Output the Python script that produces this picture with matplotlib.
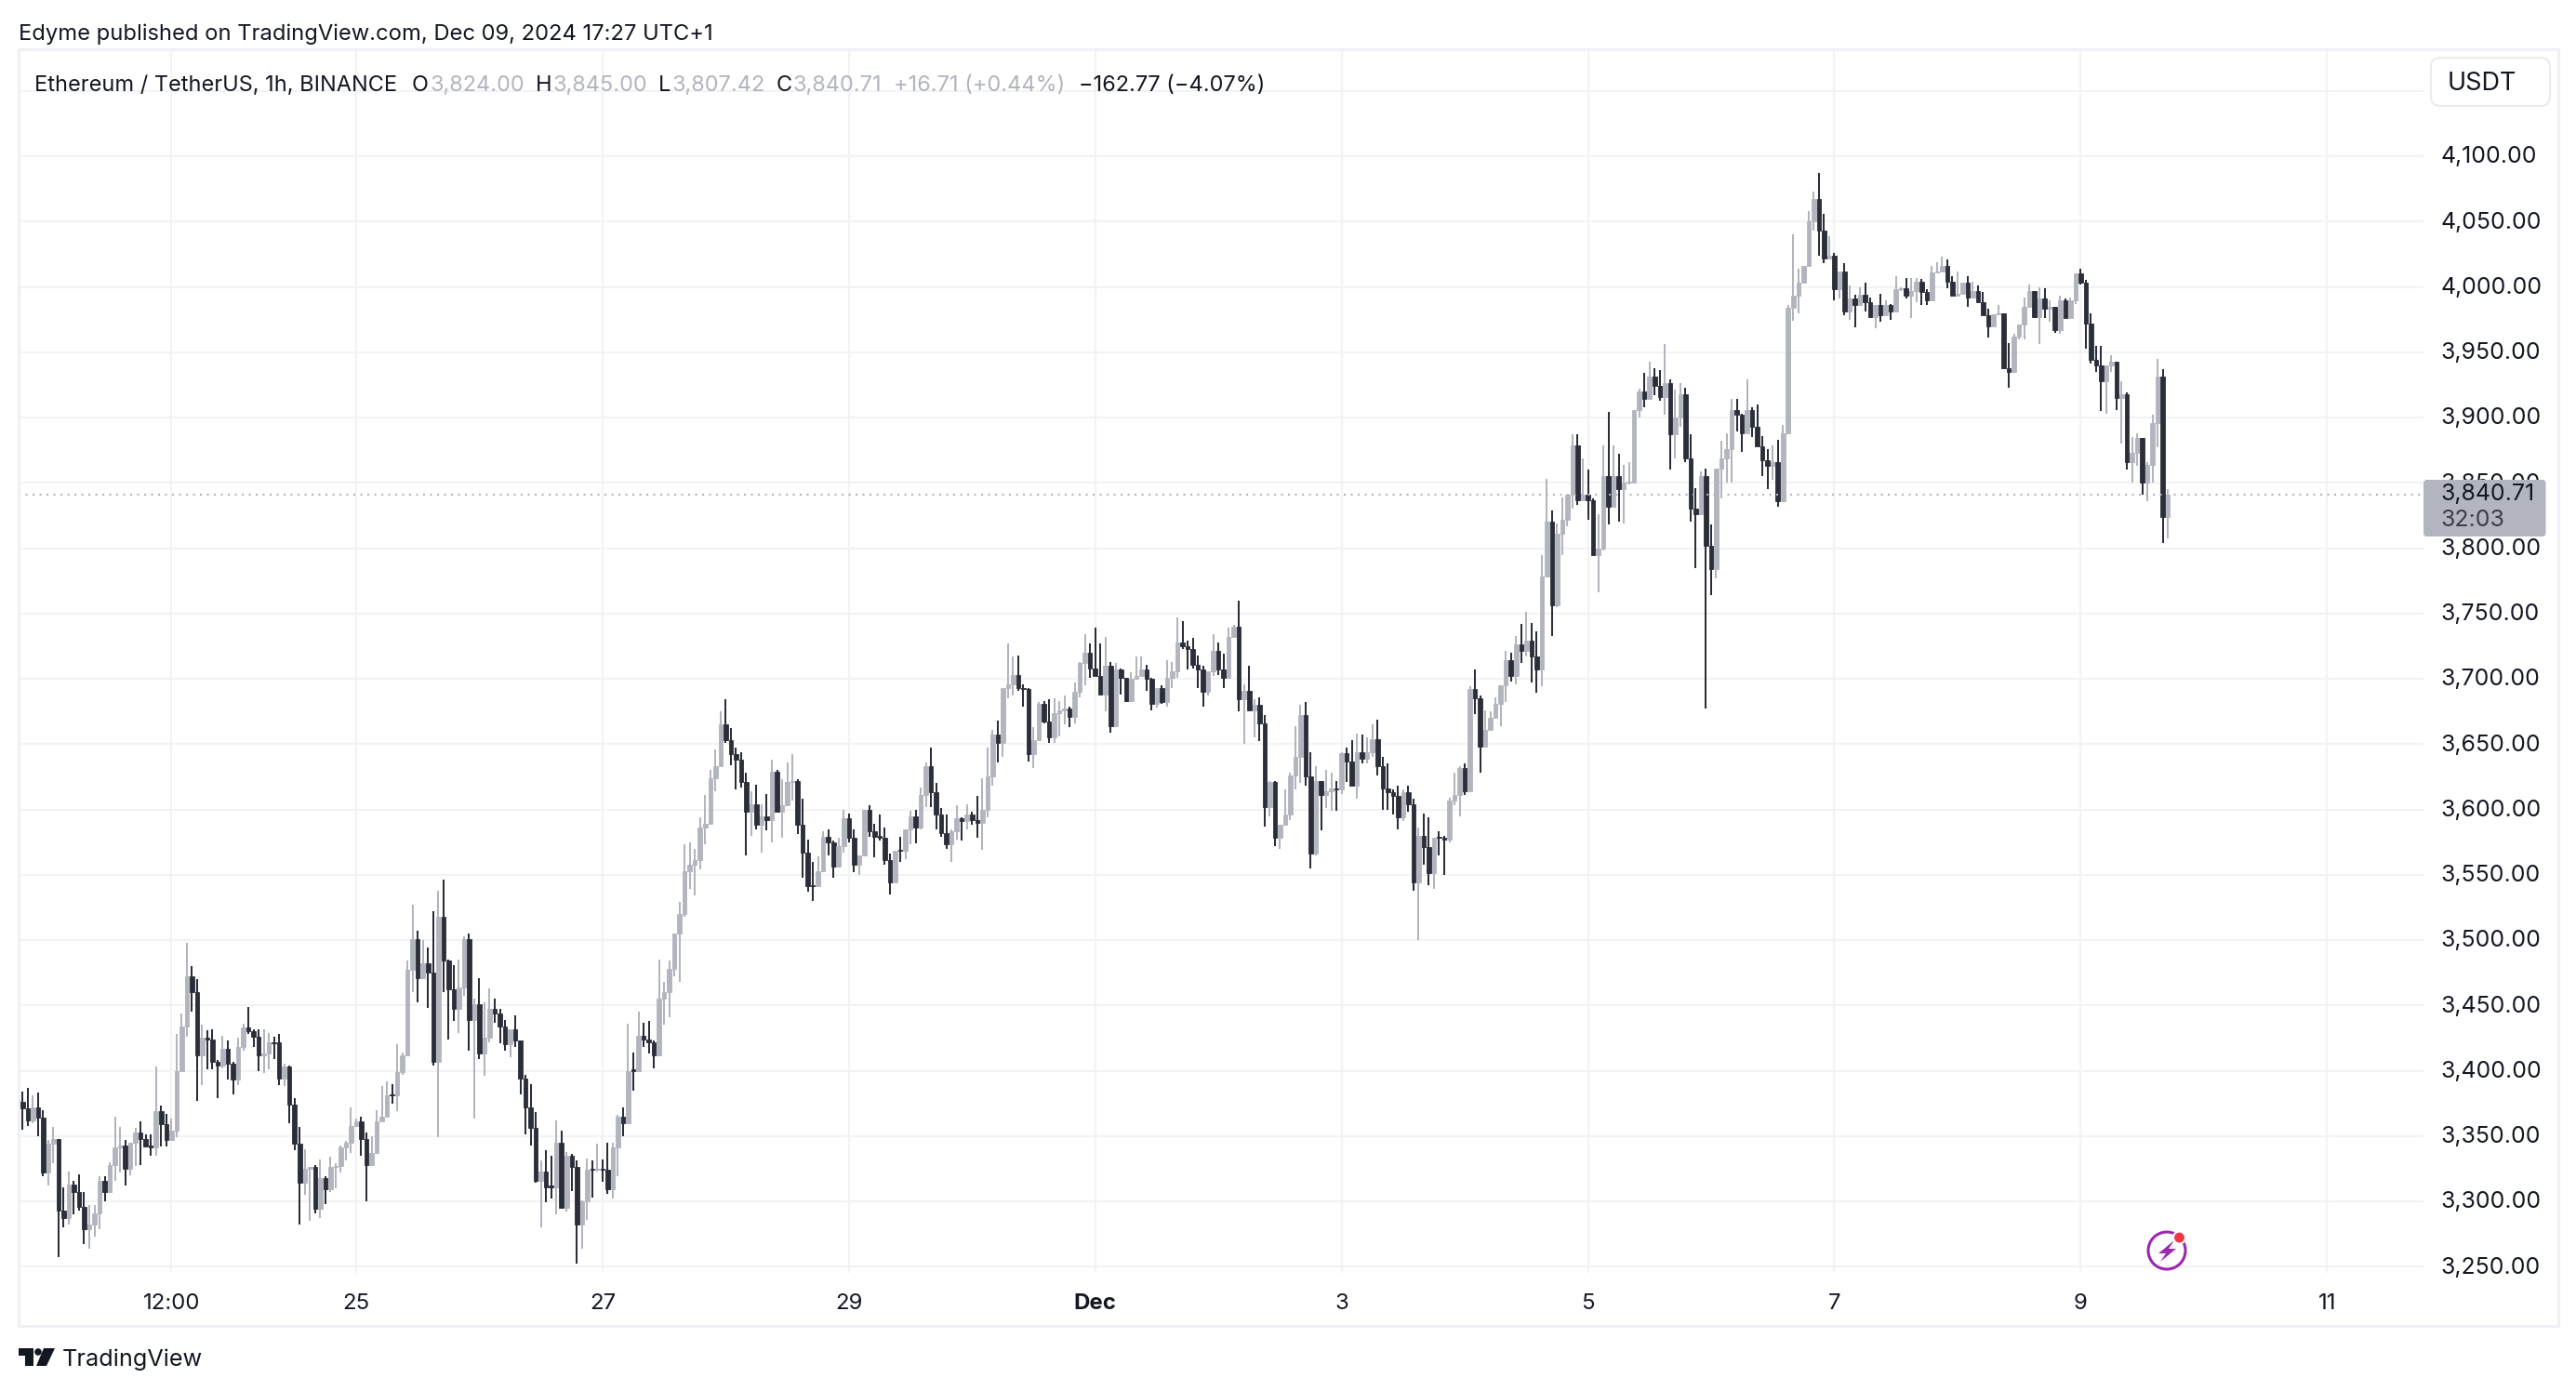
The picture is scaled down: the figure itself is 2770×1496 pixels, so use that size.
import numpy as np
import matplotlib
matplotlib.use("Agg")
import matplotlib.pyplot as plt
from matplotlib.patches import Rectangle, FancyBboxPatch, Circle, Polygon
from matplotlib.transforms import ScaledTranslation

# ---------- Data (hourly ETH/USDT candles) ----------
opens = [
    3378,3376,3371,3362,3372,3364,3322,3344,3348,3293, 3287,3313,3307,3296,3279,3282,3291,3316,3307,3328,
    3341,3343,3325,3345,3353,3348,3343,3341,3369,3359, 3347,3354,3400,3434,3472,3460,3412,3425,3424,3407,
    3404,3417,3405,3393,3418,3433,3430,3426,3412,3413, 3422,3422,3394,3403,3374,3344,3314,3325,3326,3294,
    3318,3309,3326,3327,3341,3345,3358,3361,3348,3328, 3337,3361,3365,3382,3381,3399,3412,3477,3501,3471,
    3482,3475,3407,3518,3484,3462,3447,3464,3501,3439, 3451,3413,3425,3447,3444,3434,3420,3432,3423,3394,
    3372,3356,3316,3323,3312,3311,3345,3295,3335,3326, 3282,3300,3325,3324,3325,3324,3309,3341,3365,3360,
    3401,3400,3427,3424,3422,3412,3455,3460,3478,3505, 3520,3553,3558,3561,3586,3589,3624,3633,3665,3653,
    3642,3638,3621,3598,3604,3588,3595,3592,3629,3598, 3603,3621,3622,3588,3567,3542,3541,3553,3579,3575,
    3556,3572,3593,3578,3558,3565,3600,3583,3580,3578, 3561,3544,3569,3568,3585,3595,3586,3611,3633,3613,
    3596,3582,3573,3583,3593,3591,3596,3592,3590,3600, 3625,3657,3651,3693,3696,3703,3693,3692,3642,3653,
    3681,3667,3655,3674,3676,3677,3671,3690,3712,3720, 3708,3702,3688,3710,3664,3707,3701,3683,3700,3702,
    3707,3700,3681,3693,3682,3701,3706,3728,3725,3723, 3711,3707,3690,3706,3721,3707,3701,3732,3740,3684,
    3691,3676,3680,3666,3602,3621,3578,3588,3596,3626, 3640,3672,3625,3566,3622,3611,3614,3616,3615,3643,
    3637,3618,3644,3639,3644,3654,3633,3616,3613,3610, 3594,3613,3604,3544,3580,3571,3551,3579,3578,3577,
    3607,3611,3632,3614,3692,3685,3648,3661,3670,3681, 3695,3714,3702,3726,3721,3729,3717,3707,3778,3820,
    3756,3811,3822,3841,3879,3837,3841,3837,3795,3800, 3855,3832,3855,3845,3850,3850,3906,3920,3914,3931,
    3924,3916,3926,3887,3900,3918,3869,3830,3826,3855, 3802,3784,3861,3869,3876,3906,3902,3888,3906,3893,
    3878,3867,3863,3866,3836,3888,3984,3993,4003,4016, 4050,4067,4043,4022,4024,3998,4012,3981,3991,3986,
    3994,3988,3977,3986,3978,3986,3981,3998,3999,3993, 3997,4004,3996,3990,4011,4012,4016,4004,3993,3995,
    4003,3992,3997,3988,3978,3970,3979,3980,3938,3935, 3962,3971,3985,3997,3977,3991,3983,3985,3967,3990,
    3976,3990,4010,4003,3972,3944,3940,3928,3940,3943, 3915,3918,3866,3873,3884,3850,3864,3896,3931,3824,
]
highs = [
    3390,3384,3387,3381,3383,3370,3347,3357,3348,3311, 3323,3316,3321,3307,3297,3297,3319,3319,3330,3365,
    3357,3347,3345,3356,3361,3351,3351,3403,3373,3367, 3363,3428,3444,3498,3480,3470,3435,3431,3432,3408,
    3427,3423,3407,3425,3436,3449,3432,3432,3432,3429, 3426,3428,3405,3404,3379,3357,3340,3326,3328,3332,
    3319,3334,3329,3343,3346,3372,3363,3365,3353,3350, 3370,3388,3392,3390,3420,3414,3484,3527,3507,3500,
    3494,3522,3538,3546,3485,3481,3485,3503,3505,3455, 3471,3452,3463,3455,3447,3439,3432,3442,3423,3397,
    3390,3368,3331,3339,3335,3362,3354,3338,3336,3331, 3301,3333,3331,3344,3332,3345,3345,3366,3372,3436,
    3414,3445,3437,3438,3423,3485,3468,3484,3505,3529, 3573,3575,3570,3594,3611,3630,3646,3675,3684,3662,
    3647,3644,3628,3614,3619,3604,3612,3638,3630,3623, 3636,3642,3623,3608,3577,3560,3564,3583,3585,3576,
    3578,3600,3597,3585,3565,3600,3603,3589,3596,3586, 3566,3568,3579,3585,3599,3600,3617,3636,3647,3620,
    3601,3596,3585,3603,3594,3604,3598,3610,3624,3647, 3661,3668,3693,3727,3717,3718,3696,3693,3663,3682,
    3683,3684,3685,3683,3687,3679,3697,3713,3734,3727, 3739,3727,3732,3713,3712,3708,3701,3705,3717,3717,
    3711,3701,3693,3695,3714,3713,3747,3744,3729,3731, 3718,3710,3706,3734,3728,3719,3739,3741,3760,3696,
    3710,3684,3686,3672,3622,3622,3588,3615,3628,3664, 3680,3682,3644,3633,3622,3630,3628,3622,3644,3647,
    3653,3658,3657,3655,3665,3669,3640,3635,3615,3618, 3615,3618,3608,3586,3597,3594,3578,3583,3580,3609,
    3628,3633,3635,3694,3707,3687,3676,3675,3686,3695, 3721,3720,3733,3742,3751,3743,3736,3795,3853,3829,
    3819,3839,3841,3887,3887,3869,3860,3838,3826,3879, 3904,3879,3872,3864,3866,3906,3922,3934,3943,3938,
    3936,3956,3929,3921,3926,3923,3887,3846,3859,3861, 3818,3861,3882,3888,3914,3914,3903,3929,3908,3910,
    3886,3876,3879,3883,3894,3986,4040,4014,4016,4058, 4073,4087,4056,4039,4026,4012,4018,4001,3994,4000,
    4003,3992,3986,3995,3990,3987,4008,4000,4007,4007, 4007,4006,3998,4016,4019,4023,4021,4008,4012,4003,
    4008,4004,4001,3996,3983,3979,3986,3980,3957,3964, 3971,3992,4002,3997,4000,3999,3990,3985,3993,3991,
    3992,4010,4014,4005,3980,3955,3955,3940,3948,3943, 3928,3919,3885,3888,3884,3866,3902,3945,3937,3845,
]
lows = [
    3375,3355,3358,3360,3350,3319,3312,3329,3257,3280, 3282,3290,3293,3267,3264,3273,3279,3300,3307,3316,
    3322,3312,3320,3327,3328,3341,3335,3335,3342,3342, 3347,3349,3400,3426,3445,3377,3389,3401,3401,3379,
    3402,3393,3382,3389,3415,3428,3418,3400,3398,3401, 3409,3389,3388,3360,3339,3282,3305,3285,3291,3287,
    3298,3307,3310,3322,3331,3337,3358,3335,3300,3328, 3337,3361,3365,3375,3369,3397,3411,3460,3452,3470,
    3448,3404,3349,3460,3424,3438,3429,3457,3415,3363, 3409,3396,3422,3437,3421,3415,3410,3418,3382,3351,
    3343,3314,3280,3299,3302,3290,3295,3292,3308,3252, 3264,3286,3303,3323,3315,3306,3302,3319,3350,3360,
    3385,3399,3418,3413,3402,3411,3435,3441,3472,3468, 3518,3539,3534,3554,3573,3588,3614,3633,3651,3634,
    3615,3617,3565,3580,3585,3567,3584,3575,3598,3578, 3603,3607,3581,3548,3537,3530,3541,3553,3565,3548,
    3556,3567,3575,3552,3550,3565,3579,3563,3576,3558, 3535,3544,3560,3562,3573,3574,3585,3602,3602,3585,
    3579,3570,3560,3577,3576,3585,3588,3578,3569,3594, 3618,3636,3640,3685,3687,3691,3679,3637,3632,3653,
    3666,3651,3651,3656,3665,3663,3666,3686,3695,3701, 3702,3688,3675,3659,3664,3688,3682,3683,3700,3702,
    3691,3676,3678,3681,3679,3693,3701,3723,3707,3708, 3693,3679,3687,3702,3703,3693,3701,3732,3675,3650,
    3676,3655,3652,3587,3595,3572,3570,3588,3592,3615, 3620,3618,3555,3565,3584,3601,3599,3599,3612,3621,
    3618,3608,3635,3635,3640,3626,3600,3600,3596,3585, 3591,3598,3538,3500,3558,3542,3539,3565,3550,3575,
    3603,3595,3611,3614,3673,3628,3648,3660,3670,3664, 3682,3698,3696,3712,3717,3697,3689,3694,3778,3733,
    3755,3795,3817,3830,3833,3837,3822,3795,3766,3798, 3818,3832,3820,3819,3849,3850,3900,3908,3914,3917,
    3913,3902,3860,3869,3893,3866,3820,3785,3826,3677, 3764,3777,3838,3850,3850,3889,3874,3888,3885,3878,
    3855,3845,3852,3832,3836,3888,3974,3980,4003,4016, 4043,4024,4018,4022,3990,3991,3978,3975,3969,3986,
    3981,3976,3968,3973,3978,3975,3981,3997,3991,3976, 3988,3986,3986,3990,4011,4012,3999,3993,3993,3995,
    3985,3992,3988,3978,3961,3970,3979,3937,3923,3935, 3960,3960,3985,3976,3956,3976,3973,3965,3964,3976,
    3976,3987,4002,3953,3941,3935,3905,3903,3935,3906, 3880,3860,3850,3863,3841,3836,3850,3877,3804,3807.42,
]
closes = [
    3376,3371,3362,3372,3364,3322,3344,3348,3293,3287, 3313,3307,3296,3279,3282,3291,3316,3307,3328,3341,
    3343,3325,3345,3353,3348,3342,3341,3369,3359,3347, 3354,3400,3434,3472,3460,3412,3425,3424,3407,3404,
    3417,3405,3393,3418,3433,3430,3426,3412,3413,3422, 3421,3394,3403,3374,3344,3314,3325,3326,3294,3318,
    3309,3326,3327,3341,3345,3358,3361,3348,3328,3337, 3361,3365,3381,3381,3399,3412,3477,3501,3471,3482,
    3475,3407,3518,3484,3462,3447,3464,3501,3439,3451, 3413,3425,3447,3444,3434,3420,3432,3423,3394,3372,
    3356,3316,3323,3311,3311,3345,3295,3335,3326,3282, 3300,3324,3324,3325,3324,3309,3341,3365,3360,3400,
    3400,3427,3424,3422,3412,3455,3460,3478,3505,3520, 3553,3558,3561,3586,3589,3624,3633,3665,3653,3642,
    3638,3621,3598,3604,3588,3595,3592,3629,3598,3603, 3621,3622,3588,3567,3541,3541,3553,3579,3575,3556,
    3572,3593,3578,3558,3565,3600,3583,3579,3578,3561, 3544,3568,3568,3585,3595,3586,3611,3633,3613,3596,
    3582,3573,3583,3593,3591,3596,3592,3590,3600,3625, 3657,3651,3693,3696,3703,3693,3692,3642,3653,3681,
    3667,3655,3674,3676,3677,3671,3690,3712,3720,3708, 3702,3688,3710,3664,3707,3701,3683,3700,3702,3707,
    3700,3681,3693,3682,3701,3706,3728,3725,3723,3711, 3707,3690,3706,3721,3707,3701,3732,3740,3684,3691,
    3676,3680,3666,3602,3621,3578,3588,3596,3626,3640, 3672,3625,3566,3622,3611,3614,3616,3615,3643,3637,
    3618,3644,3639,3644,3654,3633,3616,3613,3610,3594, 3613,3604,3544,3580,3571,3551,3578,3578,3577,3607,
    3611,3632,3614,3692,3685,3648,3661,3670,3681,3695, 3714,3702,3726,3721,3729,3717,3707,3778,3820,3756,
    3811,3822,3841,3879,3837,3841,3837,3795,3800,3855, 3832,3855,3845,3850,3851,3906,3920,3914,3931,3924,
    3916,3926,3887,3900,3918,3869,3830,3826,3855,3802, 3784,3861,3869,3876,3906,3902,3888,3906,3893,3878,
    3867,3863,3866,3836,3888,3984,3993,4003,4016,4050, 4067,4043,4022,4024,3998,4012,3981,3991,3986,3994,
    3988,3977,3986,3978,3986,3981,3998,3999,3993,3997, 4004,3996,3990,4011,4012,4016,4004,3993,3995,4003,
    3992,3997,3988,3978,3970,3979,3980,3938,3935,3962, 3971,3985,3997,3977,3991,3983,3985,3967,3990,3976,
    3990,4010,4003,3972,3944,3940,3928,3940,3943,3915, 3918,3866,3873,3884,3850,3864,3896,3931,3824,3840.71,
]
first_hour = -66  # hours relative to Nov 25 00:00
last_close = 3840.71

price_ticks = [3250, 3300, 3350, 3400, 3450, 3500, 3550, 3600, 3650, 3700, 3750,
               3800, 3850, 3900, 3950, 4000, 4050, 4100, 4150]
price_labels = ["3,250.00", "3,300.00", "3,350.00", "3,400.00", "3,450.00", "3,500.00",
                "3,550.00", "3,600.00", "3,650.00", "3,700.00", "3,750.00", "3,800.00",
                "3,850.00", "3,900.00", "3,950.00", "4,000.00", "4,050.00", "4,100.00", ""]
time_ticks = [-36, 0, 48, 96, 144, 192, 240, 288, 336, 384]
time_labels = ["12:00", "25", "27", "29", "Dec", "3", "5", "7", "9", "11"]

# ---------- Style ----------
W, H = 2770, 1496
UP = "#B2B5BE"
DOWN = "#2A2E39"
TXT = "#131722"
GRID = "#F3F3F5"
BORDER = "#EFEFF5"
plt.rcParams["font.family"] = ["Inter", "DejaVu Sans"]
FS = 17.3
FS_PRICE = 17.9
FS_LEGEND = 16.95

fig = plt.figure(figsize=(W / 100, H / 100), dpi=100, facecolor="white")
ax = fig.add_axes([20 / W, 1 - 1369 / H, 2586 / W, 1316 / H])
ax.set_xlim(-65.77, 402.8)
ax.set_ylim(3245.2, 4181.85)
for s in ax.spines.values():
    s.set_visible(False)

# Grid and ticks
ax.set_axisbelow(True)
ax.grid(True, color=GRID, lw=1.5)
ax.yaxis.tick_right()
ax.set_yticks(price_ticks)
ax.set_yticklabels(price_labels)
ax.set_xticks(time_ticks)
ax.set_xticklabels(time_labels)
ax.tick_params(axis="y", length=0, pad=13, labelsize=FS_PRICE, labelcolor=TXT)
ax.tick_params(axis="x", length=0, pad=15.5, labelsize=FS, labelcolor=TXT)
ax.get_xticklabels()[4].set_fontweight("bold")
# Price labels sit a little above their gridlines
nudge = ScaledTranslation(0, 1.6 / 100, fig.dpi_scale_trans)
for lab in ax.get_yticklabels():
    lab.set_transform(lab.get_transform() + nudge)

# Candles
o = np.array(opens, dtype=float)
h = np.array(highs, dtype=float)
l = np.array(lows, dtype=float)
c = np.array(closes, dtype=float)
hours = first_hour + np.arange(len(c))
colors = [UP if cl >= op else DOWN for op, cl in zip(o, c)]
ax.vlines(hours, l, h, colors=colors, lw=1.45, zorder=3)
ax.bar(hours, np.abs(c - o), bottom=np.minimum(o, c), width=0.82, color=colors,
       edgecolor=colors, linewidth=0.6, zorder=3)
ax.axhline(last_close, color=UP, ls=(0, (1, 2.6)), lw=1.5, zorder=5)

# Overlay in pixel coordinates for the TradingView furniture
ov = fig.add_axes([0, 0, 1, 1], zorder=10)
ov.set_xlim(0, W)
ov.set_ylim(H, 0)
ov.axis("off")
ov.patch.set_alpha(0)

ov.add_patch(Rectangle((20, 53), 2731, 1373, fill=False, ec=BORDER, lw=2))
ov.add_patch(FancyBboxPatch((2620, 68), 116, 40, boxstyle="round,pad=6,rounding_size=10",
                            fc="white", ec="#EAEAF0", lw=1.5))
ov.text(2632, 89.5, "USDT", fontsize=19.5, color=TXT, va="center", ha="left")

# Last price label
ov.add_patch(FancyBboxPatch((2606, 516), 131.5, 61, boxstyle="round,pad=0,rounding_size=4",
                            fc=UP, ec="none"))
ov.text(2624, 531.5, "3,840.71", fontsize=FS_PRICE, color=TXT, va="center", ha="left")
ov.text(2624, 559, "32:03", fontsize=FS_PRICE, color="#3A3D45", va="center", ha="left")

# Header and legend row
ov.text(20, 36.5, "Edyme published on TradingView.com, Dec 09, 2024 17:27 UTC+1",
        fontsize=17.1, color=TXT, va="center", ha="left")
legend_row = [
    (37, "Ethereum / TetherUS, 1h, BINANCE", TXT),
    (443, "O", TXT), (462, "3,824.00", UP),
    (576, "H", TXT), (594, "3,845.00", UP),
    (708, "L", TXT), (723, "3,807.42", UP),
    (835, "C", TXT), (852, "3,840.71", UP),
    (961, "+16.71 (+0.44%)", UP),
    (1160, "\u2212162.77 (\u22124.07%)", TXT),
]
for x, s, col in legend_row:
    ov.text(x, 91.5, s, fontsize=FS_LEGEND, color=col, va="center", ha="left")

# Footer logo
logo = "#131722"
ov.add_patch(Polygon([(20, 1450), (36, 1450), (36, 1469), (27, 1469), (27, 1458), (20, 1458)],
                     closed=True, fc=logo, ec="none"))
ov.add_patch(Circle((41, 1454), 3.8, fc=logo, ec="none"))
ov.add_patch(Polygon([(47, 1450), (59, 1450), (50, 1469), (39, 1469)], closed=True, fc=logo, ec="none"))
ov.text(67, 1462.5, "TradingView", fontsize=18.2, color=logo, va="center", ha="left")

# Lightning badge
ov.add_patch(Circle((2330, 1345), 20, fill=False, ec="#9C27B0", lw=2.2))
ov.add_patch(Polygon([(2338, 1334), (2321, 1348), (2329, 1348), (2323, 1357), (2340, 1343), (2332, 1343)],
                     closed=True, fc="#9C27B0", ec="none"))
ov.add_patch(Circle((2343.5, 1331), 6.5, fc="#F23645", ec="white", lw=1.5))

fig.savefig("out.png", dpi=100)
